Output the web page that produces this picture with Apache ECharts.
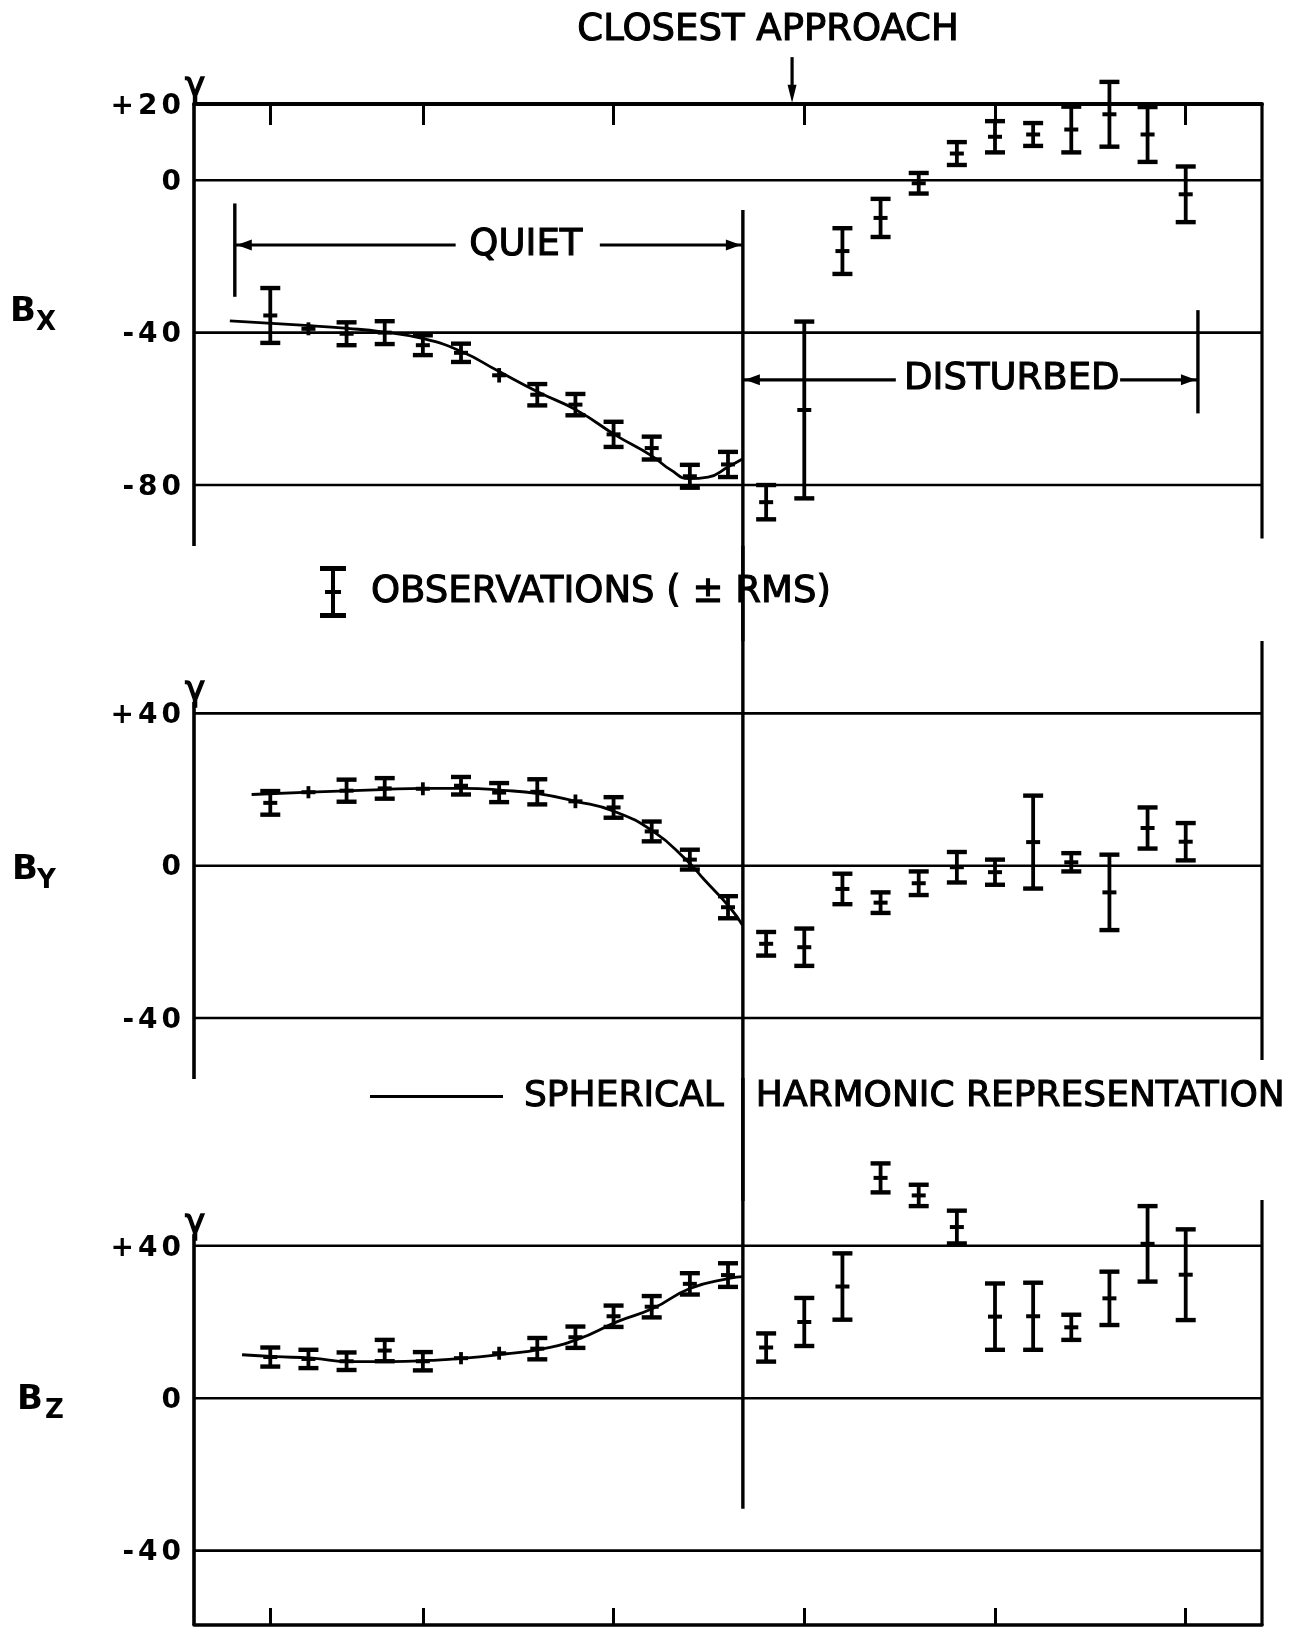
<!DOCTYPE html>
<html><head><meta charset="utf-8">
<script src="https://cdn.jsdelivr.net/npm/echarts@6/dist/echarts.min.js"></script>
<style>html,body{margin:0;padding:0;background:#fff}#c{width:1302px;height:1627px}</style>
</head><body><div id="c"></div>
<script>
// ---------------- DATA ----------------
const obsTime = [0,1,2,3,4,5,6,7,8,9,10,11,12,13,14,15,16,17,18,19,20,21,22,23,24];
const bxMean = [-35.5,-39,-40.3,-40,-43.3,-45.3,-51.2,-56.3,-58.9,-66.7,-70.3,-77.7,-74.6,-84.5,-60.3,-18.6,-9.9,-0.8,7,11.4,12,13.3,17.3,12,-3.7];
const bxRms  = [7.2,1.7,3,3,2.6,2.4,1.9,2.8,2.8,3.3,3,3,3.3,4.5,23.2,6,5,2.7,3,4.1,3,6,8.5,7.2,7.3];
const byMean = [16.5,19.3,19.7,20.3,20.2,21,19.2,19.4,16.9,15.3,9,1.6,-10.9,-20.5,-21.4,-6.1,-9.7,-4.6,-0.4,-1.7,6.2,0.9,-7,9.9,6.3];
const byRms  = [3.1,1.6,2.9,2.7,1.7,2.3,2.5,3.3,1.8,2.7,2.6,2.6,2.9,3.1,4.9,4,2.7,3.1,4,3.3,12.2,2.4,9.9,5.4,4.9];
const bzMean = [10.8,10.3,9.7,12.5,9.7,10.5,11.8,13,16,21.5,24,30,32.3,13.3,20,29.3,57.8,53.2,44.9,21.4,21.5,18.6,26.2,40.5,32.4];
const bzRms  = [2.5,2.4,2.3,2.8,2.4,1.6,1.7,2.8,2.8,2.8,2.8,2.8,3.1,3.7,6.3,8.7,3.8,2.8,4.3,8.7,8.8,3.3,7,9.9,11.9];

const bxCurveX = [-1.06,0.92,2.03,2.93,4.02,5.04,5.94,7.02,8.04,9.05,9.98,10.51,10.97,11.48,12.01,12.39];
const bxCurveY = [-36.9,-38.1,-38.9,-39.8,-41.6,-45.1,-49.9,-55.6,-60.4,-66.9,-72.2,-76.1,-78.3,-77.9,-75.2,-73.1];
const byCurveX = [-0.49,1.04,2.93,4.02,5.09,6.1,7.02,8.01,9.01,10.04,10.9,11.38,12.06,12.39];
const byCurveY = [18.7,19.3,20,20.3,20.3,19.8,18.9,16.9,14.3,9,1.6,-3.7,-11.1,-15.8];
const bzCurveX = [-0.74,0.13,1.09,2.1,3.15,4.17,5.1,6.13,7.07,8.07,9.1,10.04,11,12.06,12.39];
const bzCurveY = [11.4,10.9,10.5,9.6,9.6,9.9,10.5,11.6,12.8,15.5,20.1,23.6,28.8,31.5,31.9];

const timeTicks = [0,4,9,14,19,24];
const bxTicks = [20,0,-40,-80];
const byTicks = [40,0,-40];
const bzTicks = [40,0,-40];

const OBS_NAME = 'OBSERVATIONS ( \u00B1 RMS)';
const FIT_NAME = 'SPHERICAL HARMONIC REPRESENTATION';

// ---------------- LAYOUT ----------------
const FONT = 'DejaVu Sans';
const X_MIN = -2, X_MAX = 26;
const BOUNDARY = 12.39;
const panels = [
  {top:104, height:442, yMin:-96, yMax:20, ticks:bxTicks, mean:bxMean, rms:bxRms, cx:bxCurveX, cy:bxCurveY, gOff:-17,
   segs:[[-2,20,-2,-96,3.6],[26,20,26,-94,3.2],[-2,0,26,0,2.6],[-2,-40,26,-40,2.6],[-2,-80,26,-80,2.6],[BOUNDARY,-7.8,BOUNDARY,-121,3.4]]},
  {top:641, height:438, yMin:-56, yMax:59, ticks:byTicks, mean:byMean, rms:byRms, cx:byCurveX, cy:byCurveY, gOff:-22,
   segs:[[-2,43,-2,-56,3.6],[26,59,26,-51,3.2],[-2,40,26,40,2.6],[-2,0,26,0,2.6],[-2,-40,26,-40,2.6],[BOUNDARY,84,BOUNDARY,-88,3.4]]},
  {top:1200, height:425, yMin:-59.5, yMax:52, ticks:bzTicks, mean:bzMean, rms:bzRms, cx:bzCurveX, cy:bzCurveY, gOff:-22,
   segs:[[-2,43,-2,-59.5,3.6],[26,52,26,-59.5,3.2],[-2,40,26,40,2.6],[-2,0,26,0,2.6],[-2,-40,26,-40,2.6],[BOUNDARY,84,BOUNDARY,-29,3.4]]}
];
const quiet = {x0:-0.93, x1:BOUNDARY, y:-17, bTop:-6.1, bBot:-30.6, gapL:4.86, gapR:8.64, tx:6.70};
const disturbed = {x0:BOUNDARY, x1:24.32, y:-52.4, bTop:-34.1, bBot:-61.2, gapL:16.4, gapR:22.28, tx:19.44};
const closest = {x:13.68, yStart:32.3, yTip:20.3, tx:13.05, ty:39.2};

const CAP_HALF = 10, CENTER_HALF = 7, CAP_MIN = 2;
const TXT_SIZE = 37, TXT_STROKE = 1.1;

// ---------------- RENDERERS ----------------
function ln(x1,y1,x2,y2,w){return {type:'line',shape:{x1,y1,x2,y2},style:{stroke:'#000',lineWidth:w,lineCap:'butt'}};}
function errRender(params, api){
  const x = api.value(0), m = api.value(1), r = api.value(2);
  const p = api.coord([x,m]), t = api.coord([x,m+r]), b = api.coord([x,m-r]);
  const ch = [ln(p[0],t[1],p[0],b[1],3.8), ln(p[0]-CENTER_HALF,p[1],p[0]+CENTER_HALF,p[1],4)];
  if (r >= CAP_MIN){
    ch.push(ln(p[0]-CAP_HALF,t[1],p[0]+CAP_HALF,t[1],4.4));
    ch.push(ln(p[0]-CAP_HALF,b[1],p[0]+CAP_HALF,b[1],4.4));
  }
  return {type:'group',children:ch};
}
function arrowHead(tip, dir){
  const L=15, H=5.5;
  let pts;
  if(dir==='l') pts=[[tip[0],tip[1]],[tip[0]+L,tip[1]-H],[tip[0]+L,tip[1]+H]];
  else if(dir==='r') pts=[[tip[0],tip[1]],[tip[0]-L,tip[1]-H],[tip[0]-L,tip[1]+H]];
  else pts=[[tip[0],tip[1]],[tip[0]-4.5,tip[1]-18],[tip[0]+4.5,tip[1]-18]];
  return {type:'polygon',shape:{points:pts},style:{fill:'#000'}};
}
function txt(x,y,s,size,weight,strokeW){
  return {type:'text',x,y,style:{text:s,fill:'#000',stroke:'#000',lineWidth:strokeW||0,fontSize:size,fontFamily:FONT,fontWeight:weight||'normal',
    textAlign:'center',textVerticalAlign:'middle',align:'center',verticalAlign:'middle'}};
}
function bracketGroup(api, b, label, bracketAtStart){
  const c = (x,y)=>api.coord([x,y]);
  const ch=[];
  const bx = bracketAtStart ? b.x0 : b.x1;
  const bt=c(bx,b.bTop), bb=c(bx,b.bBot);
  ch.push(ln(bt[0],bt[1],bb[0],bb[1],3.4));
  const a=c(b.x0,b.y), gl=c(b.gapL,b.y), gr=c(b.gapR,b.y), e=c(b.x1,b.y);
  ch.push(ln(a[0],a[1],gl[0],gl[1],3.2));
  ch.push(ln(gr[0],gr[1],e[0],e[1],3.2));
  ch.push(arrowHead([a[0]+2,a[1]],'l'));
  ch.push(arrowHead([e[0]-2,e[1]],'r'));
  const t=c(b.tx,b.y);
  ch.push(txt(t[0],t[1],label,TXT_SIZE,'normal',TXT_STROKE));
  return ch;
}
function annotRender(pi){
  return function(params, api){
    const P = panels[pi];
    const ch = [];
    const g = api.coord([X_MIN, P.ticks[0]]);
    ch.push(txt(g[0]+1, g[1]+P.gOff, '\u03B3', 34, 'normal', 1.4));
    if(pi===0){
      ch.push(...bracketGroup(api, quiet, 'QUIET', true));
      ch.push(...bracketGroup(api, disturbed, 'DISTURBED', false));
      const s=api.coord([closest.x,closest.yStart]), tp=api.coord([closest.x,closest.yTip]);
      ch.push(ln(s[0],s[1],tp[0],tp[1]-12,3.2));
      ch.push(arrowHead([tp[0],tp[1]],'d'));
      const t=api.coord([closest.tx,closest.ty]);
      ch.push(txt(t[0],t[1],'CLOSEST APPROACH',TXT_SIZE,'normal',TXT_STROKE));
    }
    return {type:'group',children:ch};
  };
}
function frameRender(pi){
  return function(params, api){
    const s = panels[pi].segs[params.dataIndex];
    const a = api.coord([s[0],s[1]]), b = api.coord([s[2],s[3]]);
    return ln(a[0],a[1],b[0],b[1],s[4]);
  };
}
function yLabel(v){
  const s = v>0 ? '+'+v : String(v);
  return s.split('').map(ch=>'{d|'+ch+'}').join('');
}
// legend label: first word followed by a wide space (the boundary line passes through it)
function fitLegend(n){
  const k = n.indexOf(' ');
  return '{s| }' + n.slice(0,k) + '{g| }' + n.slice(k+1);
}

// ---------------- OPTION ----------------
const grid=[], xAxis=[], yAxis=[], series=[];
panels.forEach((P,i)=>{
  grid.push({left:194,right:40,top:P.top,height:P.height,outerBoundsMode:'none',containLabel:false});
  xAxis.push({type:'value',gridIndex:i,min:X_MIN,max:X_MAX,
    axisLabel:{show:false},splitLine:{show:false},
    axisLine:{show:i!==1,onZero:false,lineStyle:{color:'#000',width:i===0?4:3.6}},
    axisTick:{show:i!==1,inside:true,length:i===0?21:17,customValues:timeTicks,lineStyle:{color:'#000',width:3}},
    position:i===0?'top':'bottom', show:i!==1});
  yAxis.push({type:'value',gridIndex:i,min:P.yMin,max:P.yMax,
    axisLine:{show:false},axisTick:{show:false},splitLine:{show:false},
    axisLabel:{show:true,margin:11,customValues:P.ticks,formatter:yLabel,
      rich:{d:{fontFamily:FONT,fontSize:28,fontWeight:'bold',color:'#000',padding:[5,2,0,2]}}}});
  series.push({type:'custom',name:'frame'+i,xAxisIndex:i,yAxisIndex:i,silent:true,clip:false,z:1,
    data:P.segs.map(s=>[s[0],s[1]]),renderItem:frameRender(i)});
  series.push({type:'line',name:FIT_NAME,xAxisIndex:i,yAxisIndex:i,silent:true,z:3,
    data:P.cx.map((x,k)=>[x,P.cy[k]]),smooth:0.5,showSymbol:false,symbol:'none',
    lineStyle:{color:'#000',width:2.8},itemStyle:{color:'#000'}});
  series.push({type:'custom',name:OBS_NAME,xAxisIndex:i,yAxisIndex:i,silent:true,clip:false,z:4,
    itemStyle:{color:'#000'},
    data:obsTime.map((t,k)=>[t,P.mean[k],P.rms[k]]),renderItem:errRender});
  series.push({type:'custom',name:'annot'+i,xAxisIndex:i,yAxisIndex:i,silent:true,clip:false,z:5,
    data:[[0,0]],renderItem:annotRender(i)});
});

const legendText = {fontFamily:FONT,fontSize:TXT_SIZE,color:'#000',textBorderColor:'#000',textBorderWidth:TXT_STROKE};
const option = {
  animation:false,
  backgroundColor:'#fff',
  textStyle:{fontFamily:FONT,color:'#000'},
  grid, xAxis, yAxis, series,
  legend:[
    {data:[OBS_NAME],left:320,top:566,padding:0,itemWidth:26,itemHeight:52,selectedMode:false,
     icon:'path://M0,0h26v5h-26z M11,5h4v42h-4z M0,47h26v5h-26z M5,24h16v4h-16z',
     formatter:n=>'{s| }'+n,
     textStyle:Object.assign({},legendText,{rich:{s:{width:20,fontSize:TXT_SIZE}}})},
    {data:[FIT_NAME],left:370,top:1078,padding:0,itemWidth:133,itemHeight:3,selectedMode:false,
     icon:'rect',
     formatter:fitLegend,
     textStyle:Object.assign({},legendText,{fontSize:36,rich:{s:{width:16,fontSize:36},g:{width:32,fontSize:36}}})}
  ],
  graphic:[
    {type:'text',x:10,y:312,style:{text:'B',font:'bold 34px "DejaVu Sans"',fill:'#000',textVerticalAlign:'middle'}},
    {type:'text',x:36,y:323,style:{text:'X',font:'bold 26px "DejaVu Sans"',fill:'#000',textVerticalAlign:'middle'}},
    {type:'text',x:12,y:870,style:{text:'B',font:'bold 34px "DejaVu Sans"',fill:'#000',textVerticalAlign:'middle'}},
    {type:'text',x:37,y:881,style:{text:'Y',font:'bold 26px "DejaVu Sans"',fill:'#000',textVerticalAlign:'middle'}},
    {type:'text',x:17,y:1400,style:{text:'B',font:'bold 34px "DejaVu Sans"',fill:'#000',textVerticalAlign:'middle'}},
    {type:'text',x:45,y:1411,style:{text:'Z',font:'bold 26px "DejaVu Sans"',fill:'#000',textVerticalAlign:'middle'}}
  ]
};
const chart = echarts.init(document.getElementById('c'),null,{renderer:'canvas'});
chart.setOption(option);
</script></body></html>
